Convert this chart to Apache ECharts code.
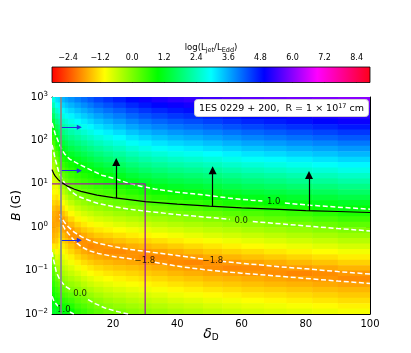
<!DOCTYPE html>
<html>
<head>
<meta charset="utf-8">
<script src="https://cdn.jsdelivr.net/npm/echarts@6/dist/echarts.min.js"></script>
<style>
html, body { margin: 0; padding: 0; background: #fff; }
#chart { width: 411px; height: 353px; }
</style>
</head>
<body>
<div id="chart"></div>
<script>
// log(Ljet/LEdd): one column per delta bin, rows from B = 1e3 down to 1e-2
const deltaEdges = [1, 2, 3, 4, 5, 6, 8, 10, 12, 14, 17, 20, 24, 28, 32, 37, 42, 48, 54, 60, 67, 74, 82, 90, 100]
const logBEdges = [3, 2.875, 2.75, 2.625, 2.5, 2.375, 2.25, 2.125, 2, 1.875, 1.75, 1.625, 1.5, 1.375, 1.25, 1.125, 1, 0.875, 0.75, 0.625, 0.5, 0.375, 0.25, 0.125, 0, -0.125, -0.25, -0.375, -0.5, -0.625, -0.75, -0.875, -1, -1.125, -1.25, -1.375, -1.5, -1.625, -1.75, -1.875, -2]
const ljetColumns = [
  [2.74,2.41,2.08,1.75,1.43,1.10,0.83,0.60,0.36,0.13,-0.06,-0.19,-0.33,-0.46,-0.59,-0.72,-0.85,-0.99,-1.15,-1.32,-1.48,-1.62,-1.67,-1.72,-1.67,-1.60,-1.52,-1.17,-0.75,-0.26,0.06,0.20,0.33,0.47,0.60,0.74,0.87,1.01,1.14,1.28],
  [3.19,2.88,2.57,2.26,1.94,1.63,1.32,1.01,0.80,0.60,0.40,0.20,0.00,-0.21,-0.42,-0.64,-0.85,-1.06,-1.24,-1.43,-1.61,-1.70,-1.76,-1.71,-1.63,-1.54,-1.43,-1.24,-1.06,-0.81,-0.54,-0.27,0.00,0.18,0.35,0.52,0.69,0.87,1.04,1.21],
  [3.31,3.04,2.76,2.49,2.21,1.94,1.67,1.39,1.12,0.89,0.71,0.52,0.33,0.15,-0.06,-0.31,-0.56,-0.81,-1.06,-1.31,-1.56,-1.80,-1.78,-1.63,-1.47,-1.31,-1.15,-0.99,-0.83,-0.67,-0.52,-0.36,-0.20,-0.04,0.15,0.35,0.55,0.75,0.95,1.15],
  [3.52,3.26,2.99,2.73,2.47,2.20,1.94,1.68,1.42,1.15,0.92,0.73,0.55,0.36,0.18,-0.01,-0.26,-0.51,-0.75,-1.00,-1.25,-1.49,-1.74,-1.84,-1.68,-1.51,-1.34,-1.17,-1.00,-0.83,-0.67,-0.50,-0.33,-0.16,0.01,0.23,0.44,0.66,0.87,1.09],
  [3.65,3.40,3.14,2.88,2.63,2.37,2.12,1.86,1.60,1.35,1.09,0.88,0.70,0.52,0.34,0.16,-0.03,-0.28,-0.53,-0.78,-1.03,-1.29,-1.54,-1.79,-1.84,-1.66,-1.49,-1.31,-1.14,-0.96,-0.79,-0.61,-0.44,-0.26,-0.09,0.11,0.34,0.57,0.80,1.03],
  [3.78,3.53,3.28,3.03,2.78,2.53,2.28,2.03,1.78,1.53,1.28,1.03,0.85,0.68,0.50,0.33,0.16,-0.01,-0.27,-0.53,-0.79,-1.04,-1.30,-1.56,-1.81,-1.86,-1.68,-1.49,-1.31,-1.12,-0.94,-0.75,-0.57,-0.39,-0.20,-0.02,0.22,0.46,0.70,0.94],
  [3.94,3.69,3.44,3.19,2.94,2.69,2.44,2.19,1.94,1.69,1.44,1.19,0.96,0.79,0.62,0.46,0.29,0.12,-0.07,-0.32,-0.57,-0.83,-1.08,-1.34,-1.59,-1.83,-1.88,-1.71,-1.51,-1.31,-1.12,-0.92,-0.72,-0.52,-0.32,-0.13,0.07,0.26,0.46,0.65],
  [4.09,3.84,3.59,3.34,3.09,2.84,2.59,2.34,2.09,1.84,1.59,1.34,1.09,0.89,0.72,0.55,0.38,0.21,0.04,-0.19,-0.43,-0.68,-0.93,-1.18,-1.43,-1.68,-1.87,-1.85,-1.67,-1.47,-1.27,-1.07,-0.87,-0.67,-0.47,-0.27,-0.07,0.13,0.33,0.53],
  [4.24,3.99,3.74,3.49,3.24,2.99,2.74,2.49,2.24,1.99,1.74,1.49,1.24,0.99,0.81,0.64,0.46,0.29,0.11,-0.08,-0.33,-0.57,-0.82,-1.06,-1.31,-1.55,-1.80,-1.93,-1.78,-1.59,-1.39,-1.19,-1.00,-0.80,-0.61,-0.41,-0.21,-0.02,0.18,0.37],
  [4.41,4.16,3.91,3.66,3.41,3.16,2.91,2.66,2.41,2.16,1.91,1.66,1.41,1.16,0.93,0.75,0.57,0.39,0.20,0.02,-0.22,-0.46,-0.70,-0.95,-1.19,-1.43,-1.68,-1.87,-1.85,-1.68,-1.49,-1.30,-1.11,-0.92,-0.73,-0.54,-0.35,-0.16,0.02,0.21],
  [4.56,4.31,4.06,3.81,3.56,3.31,3.06,2.81,2.56,2.31,2.06,1.81,1.56,1.31,1.06,0.85,0.66,0.47,0.28,0.09,-0.13,-0.37,-0.62,-0.86,-1.10,-1.35,-1.59,-1.82,-1.91,-1.75,-1.56,-1.38,-1.20,-1.02,-0.83,-0.65,-0.47,-0.29,-0.11,0.08],
  [4.71,4.46,4.21,3.96,3.71,3.46,3.21,2.96,2.71,2.46,2.21,1.96,1.71,1.46,1.21,0.97,0.77,0.57,0.37,0.17,-0.04,-0.28,-0.52,-0.76,-1.01,-1.25,-1.49,-1.74,-1.92,-1.81,-1.63,-1.45,-1.27,-1.10,-0.92,-0.74,-0.56,-0.38,-0.20,-0.02],
  [4.89,4.64,4.39,4.14,3.89,3.64,3.39,3.14,2.89,2.64,2.39,2.14,1.89,1.64,1.39,1.14,0.90,0.69,0.48,0.26,0.05,-0.19,-0.43,-0.67,-0.92,-1.16,-1.40,-1.64,-1.86,-1.86,-1.69,-1.51,-1.34,-1.17,-0.99,-0.82,-0.64,-0.47,-0.29,-0.12],
  [5.03,4.78,4.53,4.28,4.03,3.78,3.53,3.28,3.03,2.78,2.53,2.28,2.03,1.78,1.53,1.28,1.03,0.80,0.57,0.35,0.12,-0.11,-0.35,-0.60,-0.84,-1.08,-1.33,-1.57,-1.81,-1.93,-1.75,-1.58,-1.41,-1.24,-1.07,-0.89,-0.72,-0.55,-0.38,-0.21],
  [5.15,4.90,4.65,4.40,4.15,3.90,3.65,3.40,3.15,2.90,2.65,2.40,2.15,1.90,1.65,1.40,1.15,0.90,0.67,0.43,0.20,-0.04,-0.28,-0.52,-0.76,-1.00,-1.25,-1.49,-1.73,-1.92,-1.83,-1.65,-1.48,-1.31,-1.14,-0.96,-0.79,-0.62,-0.45,-0.28],
  [5.26,5.01,4.76,4.51,4.26,4.01,3.76,3.51,3.26,3.01,2.76,2.51,2.26,2.01,1.76,1.51,1.26,1.01,0.76,0.52,0.28,0.04,-0.20,-0.44,-0.68,-0.92,-1.16,-1.40,-1.64,-1.86,-1.91,-1.74,-1.57,-1.40,-1.23,-1.06,-0.89,-0.72,-0.54,-0.37],
  [5.34,5.09,4.84,4.59,4.34,4.09,3.84,3.59,3.34,3.09,2.84,2.59,2.34,2.09,1.84,1.59,1.34,1.09,0.84,0.59,0.35,0.11,-0.13,-0.37,-0.60,-0.83,-1.07,-1.30,-1.54,-1.77,-1.95,-1.81,-1.64,-1.47,-1.30,-1.13,-0.96,-0.79,-0.62,-0.45],
  [5.44,5.19,4.94,4.69,4.44,4.19,3.94,3.69,3.44,3.19,2.94,2.69,2.44,2.19,1.94,1.69,1.44,1.19,0.94,0.69,0.44,0.19,-0.06,-0.29,-0.51,-0.74,-0.97,-1.20,-1.43,-1.66,-1.87,-1.89,-1.71,-1.55,-1.38,-1.21,-1.05,-0.88,-0.71,-0.54],
  [5.55,5.30,5.05,4.80,4.55,4.30,4.05,3.80,3.55,3.30,3.05,2.80,2.55,2.30,2.05,1.80,1.55,1.30,1.05,0.79,0.54,0.28,0.02,-0.21,-0.44,-0.66,-0.89,-1.12,-1.35,-1.58,-1.81,-1.95,-1.77,-1.60,-1.44,-1.27,-1.11,-0.94,-0.78,-0.61],
  [5.65,5.40,5.15,4.90,4.65,4.40,4.15,3.90,3.65,3.40,3.15,2.90,2.65,2.40,2.15,1.90,1.65,1.40,1.15,0.89,0.63,0.37,0.11,-0.13,-0.35,-0.58,-0.81,-1.04,-1.27,-1.49,-1.72,-1.92,-1.83,-1.66,-1.50,-1.34,-1.18,-1.01,-0.85,-0.69],
  [5.73,5.48,5.23,4.98,4.73,4.48,4.23,3.98,3.73,3.48,3.23,2.98,2.73,2.48,2.23,1.98,1.73,1.48,1.23,0.97,0.72,0.46,0.21,-0.04,-0.27,-0.50,-0.73,-0.95,-1.18,-1.41,-1.64,-1.85,-1.89,-1.72,-1.56,-1.39,-1.23,-1.07,-0.91,-0.75],
  [5.82,5.57,5.32,5.07,4.82,4.57,4.32,4.07,3.82,3.57,3.32,3.07,2.82,2.57,2.32,2.07,1.82,1.57,1.32,1.07,0.81,0.55,0.30,0.04,-0.19,-0.42,-0.64,-0.87,-1.10,-1.33,-1.55,-1.78,-1.96,-1.77,-1.61,-1.45,-1.29,-1.13,-0.97,-0.81],
  [5.91,5.66,5.41,5.16,4.91,4.66,4.41,4.16,3.91,3.66,3.41,3.16,2.91,2.66,2.41,2.16,1.91,1.66,1.41,1.16,0.91,0.65,0.39,0.14,-0.10,-0.33,-0.56,-0.78,-1.01,-1.24,-1.47,-1.69,-1.90,-1.84,-1.68,-1.52,-1.36,-1.20,-1.04,-0.88],
  [6.01,5.76,5.51,5.26,5.01,4.76,4.51,4.26,4.01,3.76,3.51,3.26,3.01,2.76,2.51,2.26,2.01,1.76,1.51,1.26,1.01,0.75,0.50,0.24,-0.01,-0.24,-0.46,-0.69,-0.92,-1.14,-1.37,-1.60,-1.82,-1.93,-1.74,-1.58,-1.43,-1.27,-1.11,-0.95]
]

// dashed contours, [delta, B]; each contour is split where its label sits
const contourUpper10 = [
  [[1, 251], [1.4, 200], [2, 141], [3, 93], [4, 63], [5, 48], [6.5, 37], [8.2, 31.6], [10, 26.9], [13.3, 20.4], [16.5, 15.8], [20.6, 13.2], [24.5, 10.5], [28.9, 8.7], [33, 7.6], [39.3, 6.5], [45, 5.9], [49.7, 5.4], [56, 4.7], [63, 4.2], [66.5, 4.0]],
  [[73.5, 3.6], [81.5, 3.2], [90, 2.9], [100, 2.6]]
]
const contourUpper00 = [
  [[1, 79], [1.4, 60], [2, 37], [3, 20], [4, 13.5], [5.5, 8.9], [7.1, 6.5], [9, 5.2], [11.5, 4.4], [15.4, 3.5], [20, 3.0], [25, 2.6], [31, 2.3], [40, 1.95], [50, 1.68], [56.3, 1.51]],
  [[63.5, 1.35], [70, 1.23], [80, 1.07], [90, 0.93], [100, 0.82]]
]
const contourMinus18 = [
  [[100, 0.083], [90, 0.095], [80, 0.110], [70, 0.126], [60, 0.148], [54.2, 0.162]],
  [[48, 0.184], [41.4, 0.216], [31, 0.271], [25, 0.309], [20.6, 0.353], [15.4, 0.423], [12.5, 0.50], [10.2, 0.60], [8, 0.76], [6.07, 1.02], [4.8, 1.32], [4, 1.66], [3.55, 2.0], [3.2, 1.82], [3.55, 1.58], [4, 1.26], [5, 0.91], [6.07, 0.72], [8, 0.48], [10.2, 0.353], [12.5, 0.288], [15.4, 0.249], [20.6, 0.208], [26.9, 0.181]],
  [[33, 0.155], [41.4, 0.122], [49.7, 0.1026], [60, 0.087], [70, 0.076], [80, 0.066], [90, 0.0575], [100, 0.0507]]
]
const contourLower00 = [
  [[1, 0.267], [1.31, 0.205], [2.34, 0.0925], [3.49, 0.0605], [5.05, 0.044], [7.24, 0.0347]],
  [[12.25, 0.0215], [14.43, 0.0174], [17.55, 0.0137], [20.66, 0.0117], [24.7, 0.01]]
]
const contourLower10 = [
  [[1, 0.0257], [1.5, 0.0209], [2, 0.0182], [2.9, 0.0151]],
  [[6.6, 0.0111], [7.8, 0.01]]
]
const contourLabels = [[70, 3.83, '1.0'], [59.9, 1.40, '0.0'], [51.1, 0.168, '−1.8'], [29.9, 0.168, '−1.8'], [9.74, 0.0288, '0.0'], [4.7, 0.0128, '1.0']]

const limitLine = [[1, 21.2], [1.5, 17.4], [2, 15.0], [3, 12.3], [4, 10.7], [6, 8.7], [8, 7.5], [10, 6.7], [15, 5.5], [20, 4.8], [30, 3.9], [40, 3.4], [50, 3.05], [60, 2.8], [70, 2.6], [80, 2.42], [90, 2.3], [100, 2.18]]
const boxLine = [[1, 10], [30, 10], [30, 0.01]]
const grayLine = [[3.8, 1000], [3.8, 0.01]]
const blueArrows = [[3.8, 9.5, 200], [3.8, 9.5, 20], [3.8, 9.5, 0.5]] // [delta from, delta to, B]
const blackArrows = [[21, 4.67, 32], [51, 3.0, 20.6], [81, 2.38, 16.0]] // [delta, B from, B to]

const colorbarRange = [-3.0, 8.9]
const colorbarTicks = [-2.4, -1.2, 0.0, 1.2, 2.4, 3.6, 4.8, 6.0, 7.2, 8.4]
const decadeTicks = [0.01, 0.1, 1, 10, 100, 1000]
const deltaTicks = [20, 40, 60, 80, 100]
const hsvColors = ['#ff0000', '#ffff00', '#00ff00', '#00ffff', '#0000ff', '#ff00ff', '#ff0018']

const minorTicks = []
decadeTicks.slice(0, -1).forEach((d) => { for (let m = 2; m < 10; m++) minorTicks.push(d * m) })

const cells = []
ljetColumns.forEach((col, i) => {
  col.forEach((v, j) => {
    cells.push([deltaEdges[i], deltaEdges[i + 1], Math.pow(10, logBEdges[j + 1]), Math.pow(10, logBEdges[j]), v])
  })
})

const supStyle = { fontSize: 7, padding: [0, 0, 6, 0] }
const subStyle = { fontSize: 6.5, padding: [5, 0, 0, 0] }
function powerLabel(v) {
  const e = Math.round(Math.log10(v))
  return '10{sup|' + (e < 0 ? '−' + (-e) : e) + '}'
}
function signed(v) { return (v < 0 ? '−' : '') + Math.abs(v).toFixed(1) }

const lineBase = { type: 'line', xAxisIndex: 0, yAxisIndex: 0, symbol: 'none', silent: true, animation: false }
function dashedSeries(segments) {
  return segments.map((data) => ({ ...lineBase, data, z: 3, lineStyle: { color: '#fff', width: 1.5, type: [5, 2.6] } }))
}

const chart = echarts.init(document.getElementById('chart'))
chart.setOption({
  animation: false,
  textStyle: { fontFamily: 'DejaVu Sans', color: '#000' },
  title: {
    text: '1ES 0229 + 200,  R = 1 × 10{sup|17} cm',
    left: 194, top: 99,
    padding: [4, 5, 3, 5],
    backgroundColor: '#fff', borderColor: '#cfcfcf', borderWidth: 1, borderRadius: 3,
    textStyle: { fontSize: 9.5, fontWeight: 'normal', color: '#000', fontFamily: 'DejaVu Sans', rich: { sup: { fontSize: 6.5, padding: [0, 0, 5, 0] } } },
  },
  grid: [
    { left: 52, top: 97, width: 318, height: 217 },
    { left: 52, top: 67, width: 318, height: 15.5 },
    { left: 52, top: 97, width: 318, height: 217 },
  ],
  visualMap: { type: 'continuous', show: false, seriesIndex: 0, dimension: 4, min: colorbarRange[0], max: colorbarRange[1], inRange: { color: hsvColors } },
  xAxis: [
    {
      gridIndex: 0, type: 'value', min: 1, max: 100, position: 'bottom',
      axisLine: { onZero: false, lineStyle: { color: '#000', width: 1 } },
      axisTick: { inside: true, length: 4, customValues: deltaTicks, lineStyle: { color: '#000' } },
      axisLabel: { customValues: deltaTicks, fontSize: 10, color: '#000', margin: 5 },
      splitLine: { show: false },
      name: '{i|δ}{sub|D}', nameLocation: 'middle', nameGap: 12, nameMoveOverlap: false,
      nameTextStyle: { fontSize: 14, color: '#000', rich: { i: { fontStyle: 'italic', fontSize: 14 }, sub: { fontSize: 9, padding: [7, 0, 0, 0] } } },
    },
    {
      gridIndex: 0, type: 'value', min: 1, max: 100, position: 'top',
      axisLine: { onZero: false, lineStyle: { color: '#000', width: 1 } },
      axisTick: { inside: true, length: 4, customValues: deltaTicks, lineStyle: { color: '#000' } },
      axisLabel: { show: false }, splitLine: { show: false },
    },
    {
      gridIndex: 1, type: 'value', min: colorbarRange[0], max: colorbarRange[1], position: 'top',
      axisLine: { show: false },
      axisTick: { show: true, inside: false, length: 3, customValues: colorbarTicks, lineStyle: { color: '#000' } },
      axisLabel: { customValues: colorbarTicks, formatter: signed, fontSize: 8, color: '#000', margin: 5 },
      splitLine: { show: false },
      name: 'log(L{sub|jet}/L{sub|Edd})', nameLocation: 'middle', nameGap: 13, nameMoveOverlap: false,
      nameTextStyle: { fontSize: 8.5, color: '#000', rich: { sub: subStyle } },
    },
    { gridIndex: 2, type: 'value', min: 1, max: 100, show: false },
  ],
  yAxis: [
    {
      gridIndex: 0, type: 'log', logBase: 10, min: 0.01, max: 1000, position: 'left',
      axisLine: { show: true, onZero: false, lineStyle: { color: '#000', width: 1 } },
      axisTick: { inside: true, length: 4, customValues: decadeTicks, lineStyle: { color: '#000' } },
      axisLabel: { customValues: decadeTicks, formatter: powerLabel, fontSize: 10, color: '#000', margin: 4, rich: { sup: supStyle } },
      splitLine: { show: false },
      name: '{i|B} (G)', nameLocation: 'middle', nameGap: 29, nameMoveOverlap: false,
      nameTextStyle: { fontSize: 12, color: '#000', rich: { i: { fontStyle: 'italic', fontSize: 12 } } },
    },
    {
      gridIndex: 0, type: 'log', logBase: 10, min: 0.01, max: 1000, position: 'right',
      axisLine: { show: true, onZero: false, lineStyle: { color: '#000', width: 1 } },
      axisTick: { inside: true, length: 4, customValues: decadeTicks, lineStyle: { color: '#000' } },
      axisLabel: { show: false }, splitLine: { show: false },
    },
    { gridIndex: 1, type: 'value', min: 0, max: 1, show: false },
    {
      gridIndex: 2, type: 'log', logBase: 10, min: 0.01, max: 1000, position: 'left',
      axisLine: { show: false },
      axisTick: { inside: true, length: 2, customValues: minorTicks, lineStyle: { color: '#000' } },
      axisLabel: { show: false }, splitLine: { show: false },
    },
    {
      gridIndex: 2, type: 'log', logBase: 10, min: 0.01, max: 1000, position: 'right',
      axisLine: { show: false },
      axisTick: { inside: true, length: 2, customValues: minorTicks, lineStyle: { color: '#000' } },
      axisLabel: { show: false }, splitLine: { show: false },
    },
  ],
  series: [
    {
      type: 'custom', xAxisIndex: 0, yAxisIndex: 0, data: cells, clip: true, silent: true, progressive: 0, z: 1,
      encode: { x: [0, 1], y: [2, 3] },
      renderItem: (params, api) => {
        const a = api.coord([api.value(0), api.value(3)])
        const b = api.coord([api.value(1), api.value(2)])
        return { type: 'rect', shape: { x: a[0], y: a[1], width: b[0] - a[0] + 0.6, height: b[1] - a[1] + 0.6 }, style: { fill: api.visual('color') } }
      },
    },
    {
      type: 'custom', xAxisIndex: 2, yAxisIndex: 2, data: [colorbarRange], silent: true,
      renderItem: (params, api) => {
        const a = api.coord([api.value(0), 1])
        const b = api.coord([api.value(1), 0])
        return {
          type: 'rect', shape: { x: a[0], y: a[1], width: b[0] - a[0], height: b[1] - a[1] },
          style: {
            fill: { type: 'linear', x: 0, y: 0, x2: 1, y2: 0, colorStops: hsvColors.map((c, i) => ({ offset: i / (hsvColors.length - 1), color: c })) },
            stroke: '#000', lineWidth: 0.8,
          },
        }
      },
    },
    ...dashedSeries(contourUpper10),
    ...dashedSeries(contourUpper00),
    ...dashedSeries(contourMinus18),
    ...dashedSeries(contourLower00),
    ...dashedSeries(contourLower10),
    {
      type: 'scatter', xAxisIndex: 0, yAxisIndex: 0, data: contourLabels, symbolSize: 1, silent: true, z: 4,
      itemStyle: { color: 'rgba(0,0,0,0)' },
      label: { show: true, position: 'inside', formatter: (p) => p.data[2], fontSize: 8.5, color: '#000' },
    },
    { ...lineBase, data: boxLine, z: 4, lineStyle: { color: '#a01ca0', width: 1.3 } },
    {
      ...lineBase, data: limitLine, z: 5, lineStyle: { color: '#000', width: 1.2 },
      markLine: {
        silent: true, animation: false, symbol: ['none', 'triangle'], symbolSize: 8,
        label: { show: false }, lineStyle: { color: '#000', width: 1.2, type: 'solid' },
        data: blackArrows.map((a) => [{ coord: [a[0], a[1]] }, { coord: [a[0], a[2]] }]),
      },
    },
    {
      ...lineBase, data: grayLine, z: 5, lineStyle: { color: 'rgba(135,135,135,0.85)', width: 2 },
      markLine: {
        silent: true, animation: false, symbol: ['none', 'triangle'], symbolSize: 5,
        label: { show: false }, lineStyle: { color: '#1f2fe0', width: 1, type: 'solid' },
        data: blueArrows.map((a) => [{ coord: [a[0], a[2]] }, { coord: [a[1], a[2]] }]),
      },
    },
  ],
})
</script>
</body>
</html>
